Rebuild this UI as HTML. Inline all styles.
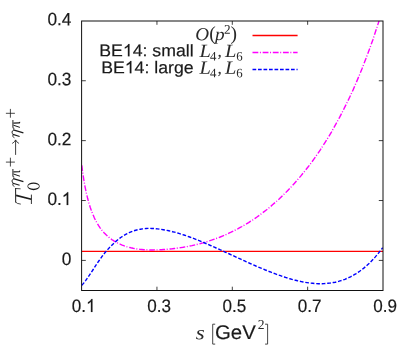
<!DOCTYPE html>
<html><head><meta charset="utf-8"><title>plot</title>
<style>
html,body{margin:0;padding:0;background:#fff;}
svg{display:block;will-change:transform;}
.sans{font-family:"Liberation Sans",sans-serif;fill:#1a1a1a;stroke:#1a1a1a;stroke-width:0.18px;}
.mi{font-family:"Liberation Serif",serif;font-style:italic;fill:#2a2a2a;}
.mr{font-family:"Liberation Serif",serif;fill:#2a2a2a;}
</style></head>
<body>
<svg width="415" height="345" viewBox="0 0 415 345">
<rect x="0" y="0" width="415" height="345" fill="#ffffff"/>
<g stroke="#1e1e1e" stroke-width="0.85" fill="none">
<line x1="156.95" y1="290.5" x2="156.95" y2="286.7"/>
<line x1="156.95" y1="21.0" x2="156.95" y2="24.8"/>
<line x1="232.30" y1="290.5" x2="232.30" y2="286.7"/>
<line x1="232.30" y1="21.0" x2="232.30" y2="24.8"/>
<line x1="307.65" y1="290.5" x2="307.65" y2="286.7"/>
<line x1="307.65" y1="21.0" x2="307.65" y2="24.8"/>
<line x1="81.6" y1="260.41" x2="85.8" y2="260.41"/>
<line x1="383.0" y1="260.41" x2="378.8" y2="260.41"/>
<line x1="81.6" y1="200.52" x2="85.8" y2="200.52"/>
<line x1="383.0" y1="200.52" x2="378.8" y2="200.52"/>
<line x1="81.6" y1="140.63" x2="85.8" y2="140.63"/>
<line x1="383.0" y1="140.63" x2="378.8" y2="140.63"/>
<line x1="81.6" y1="80.74" x2="85.8" y2="80.74"/>
<line x1="383.0" y1="80.74" x2="378.8" y2="80.74"/>
</g>
<defs><clipPath id="pc"><rect x="81.6" y="21.0" width="301.40" height="269.50"/></clipPath></defs>
<g clip-path="url(#pc)">
<line x1="81.6" y1="251.3" x2="383.0" y2="251.3" stroke="#ff0000" stroke-width="1.35"/>
<path d="M81.8,165.4 L82.4,170.4 L83.1,174.9 L83.7,179.1 L84.4,183.0 L85.0,186.6 L85.7,189.8 L86.3,192.9 L87.0,195.7 L87.6,198.3 L88.3,200.7 L88.9,203.0 L89.6,205.2 L90.2,207.3 L90.9,209.2 L91.5,211.0 L92.2,212.7 L92.8,214.3 L93.5,215.8 L94.1,217.3 L94.7,218.6 L95.4,219.9 L96.0,221.2 L96.7,222.4 L97.3,223.5 L98.0,224.6 L98.6,225.6 L99.3,226.6 L99.9,227.6 L100.6,228.5 L101.2,229.3 L101.9,230.2 L102.5,231.0 L103.2,231.7 L103.8,232.5 L104.5,233.2 L105.1,233.8 L105.8,234.5 L106.4,235.1 L107.1,235.7 L107.7,236.3 L108.3,236.8 L109.0,237.4 L109.6,237.9 L110.3,238.4 L110.9,238.9 L111.6,239.4 L112.2,239.8 L112.9,240.2 L113.5,240.7 L114.2,241.1 L114.8,241.5 L115.5,241.9 L116.1,242.2 L116.8,242.6 L117.4,242.9 L118.1,243.2 L118.7,243.6 L119.4,243.9 L120.0,244.1 L122.2,245.1 L124.4,245.9 L126.5,246.6 L128.7,247.2 L130.9,247.8 L133.1,248.3 L135.3,248.7 L137.4,249.0 L139.6,249.3 L141.8,249.5 L144.0,249.7 L146.1,249.8 L148.3,249.9 L150.5,250.0 L152.7,250.0 L154.9,249.9 L157.0,249.9 L159.2,249.8 L161.4,249.7 L163.6,249.5 L165.8,249.4 L167.9,249.2 L170.1,249.0 L172.3,248.8 L174.5,248.5 L176.7,248.2 L178.8,247.9 L181.0,247.6 L183.2,247.3 L185.4,246.9 L187.5,246.5 L189.7,246.0 L191.9,245.6 L194.1,245.1 L196.3,244.6 L198.4,244.0 L200.6,243.5 L202.8,242.9 L205.0,242.2 L207.2,241.6 L209.3,240.9 L211.5,240.2 L213.7,239.4 L215.9,238.6 L218.1,237.8 L220.2,237.0 L222.4,236.1 L224.6,235.2 L226.8,234.2 L228.9,233.2 L231.1,232.2 L233.3,231.1 L235.5,230.0 L237.7,228.9 L239.8,227.7 L242.0,226.5 L244.2,225.2 L246.4,223.9 L248.6,222.6 L250.7,221.2 L252.9,219.8 L255.1,218.3 L257.3,216.8 L259.5,215.2 L261.6,213.6 L263.8,211.9 L266.0,210.2 L268.2,208.5 L270.4,206.7 L272.5,204.8 L274.7,202.9 L276.9,201.0 L279.1,199.0 L281.2,196.9 L283.4,194.8 L285.6,192.7 L287.8,190.4 L290.0,188.2 L292.1,185.9 L294.3,183.5 L296.5,181.0 L298.7,178.5 L300.9,175.9 L303.0,173.3 L305.2,170.6 L307.4,167.8 L309.6,165.0 L311.8,162.1 L313.9,159.1 L316.1,156.0 L318.3,152.8 L320.5,149.6 L322.6,146.3 L324.8,142.9 L327.0,139.4 L329.2,135.8 L331.4,132.1 L333.5,128.3 L335.7,124.4 L337.9,120.5 L340.1,116.4 L342.3,112.2 L344.4,107.9 L346.6,103.5 L348.8,99.0 L351.0,94.4 L353.2,89.6 L355.3,84.7 L357.5,79.6 L359.7,74.4 L361.9,69.1 L364.0,63.6 L366.2,57.9 L368.4,52.1 L370.6,46.1 L372.8,39.9 L374.9,33.5 L377.1,26.9 L379.3,20.1" fill="none" stroke="#ff00ff" stroke-width="1.4" stroke-dasharray="5.7 1.6 1.0 1.85"/>
<path d="M81.8,285.4 L83.7,283.1 L85.6,280.6 L87.5,277.9 L89.4,275.2 L91.3,272.3 L93.2,269.5 L95.0,266.6 L96.9,263.7 L98.8,261.0 L100.7,258.3 L102.6,255.7 L104.5,253.3 L106.4,251.0 L108.3,248.9 L110.2,246.8 L112.1,244.9 L114.0,243.1 L115.9,241.4 L117.8,239.8 L119.6,238.3 L121.5,237.0 L123.4,235.7 L125.3,234.6 L127.2,233.6 L129.1,232.7 L131.0,231.9 L132.9,231.1 L134.8,230.5 L136.7,230.0 L138.6,229.5 L140.5,229.2 L142.4,228.9 L144.3,228.7 L146.1,228.5 L148.0,228.4 L149.9,228.4 L151.8,228.5 L153.7,228.5 L155.6,228.7 L157.5,228.9 L159.4,229.1 L161.3,229.4 L163.2,229.7 L165.1,230.0 L167.0,230.4 L168.9,230.8 L170.7,231.2 L172.6,231.7 L174.5,232.1 L176.4,232.7 L178.3,233.2 L180.2,233.8 L182.1,234.4 L184.0,235.0 L185.9,235.6 L187.8,236.3 L189.7,237.0 L191.6,237.7 L193.5,238.4 L195.3,239.1 L197.2,239.9 L199.1,240.6 L201.0,241.4 L202.9,242.2 L204.8,243.0 L206.7,243.8 L208.6,244.6 L210.5,245.5 L212.4,246.3 L214.3,247.1 L216.2,248.0 L218.1,248.8 L219.9,249.7 L221.8,250.5 L223.7,251.4 L225.6,252.3 L227.5,253.1 L229.4,254.0 L231.3,254.9 L233.2,255.7 L235.1,256.6 L237.0,257.5 L238.9,258.3 L240.8,259.2 L242.7,260.1 L244.6,260.9 L246.4,261.8 L248.3,262.6 L250.2,263.5 L252.1,264.3 L254.0,265.1 L255.9,266.0 L257.8,266.8 L259.7,267.6 L261.6,268.4 L263.5,269.2 L265.4,270.0 L267.3,270.7 L269.2,271.5 L271.0,272.2 L272.9,273.0 L274.8,273.7 L276.7,274.4 L278.6,275.1 L280.5,275.7 L282.4,276.4 L284.3,277.0 L286.2,277.6 L288.1,278.2 L290.0,278.8 L291.9,279.3 L293.8,279.9 L295.6,280.3 L297.5,280.8 L299.4,281.2 L301.3,281.6 L303.2,282.0 L305.1,282.3 L307.0,282.6 L308.9,282.9 L310.8,283.1 L312.7,283.3 L314.6,283.5 L316.5,283.6 L318.4,283.7 L320.2,283.7 L322.1,283.7 L324.0,283.6 L325.9,283.5 L327.8,283.3 L329.7,283.1 L331.6,282.9 L333.5,282.5 L335.4,282.2 L337.3,281.7 L339.2,281.2 L341.1,280.6 L343.0,280.0 L344.9,279.3 L346.7,278.5 L348.6,277.7 L350.5,276.8 L352.4,275.8 L354.3,274.7 L356.2,273.6 L358.1,272.3 L360.0,271.0 L361.9,269.6 L363.8,268.1 L365.7,266.5 L367.6,264.8 L369.5,263.1 L371.3,261.2 L373.2,259.2 L375.1,257.1 L377.0,254.9 L378.9,252.6 L380.8,250.2 L382.7,247.7" fill="none" stroke="#0000ff" stroke-width="1.4" stroke-dasharray="3.7 1.8"/>
</g>
<rect x="81.6" y="21.0" width="301.40" height="269.50" fill="none" stroke="#111" stroke-width="1"/>
<line x1="252.5" y1="35.5" x2="297.6" y2="35.5" stroke="#ff0000" stroke-width="1.35"/>
<line x1="252.5" y1="52.5" x2="297.6" y2="52.5" stroke="#ff00ff" stroke-width="1.4" stroke-dasharray="5.8 1.6 1.0 1.75"/>
<line x1="252.5" y1="69.5" x2="297.6" y2="69.5" stroke="#0000ff" stroke-width="1.4" stroke-dasharray="3.7 1.8"/>
<text class="sans" transform="translate(71.40,264.96) scale(0.96,1) rotate(0.1)" font-size="18.0" text-anchor="end">0</text>
<text class="sans" transform="translate(61.79,205.07) scale(0.96,1) rotate(0.1)" font-size="18.0" text-anchor="end">0.</text>
<path d="M68.23,205.07 L66.71,205.07 L66.71,194.99 Q66.16,195.53 65.27,196.08 Q64.38,196.62 63.67,196.89 L63.67,195.36 Q64.95,194.74 65.90,193.85 Q66.85,192.96 67.25,192.13 L68.23,192.13 Z" fill="#1a1a1a" stroke="#1a1a1a" stroke-width="0.18"/>
<text class="sans" transform="translate(71.40,145.18) scale(0.96,1) rotate(0.1)" font-size="18.0" text-anchor="end">0.2</text>
<text class="sans" transform="translate(71.40,85.29) scale(0.96,1) rotate(0.1)" font-size="18.0" text-anchor="end">0.3</text>
<text class="sans" transform="translate(71.40,25.40) scale(0.96,1) rotate(0.1)" font-size="18.0" text-anchor="end">0.4</text>
<text class="sans" transform="translate(71.81,311.90) scale(0.95,1) rotate(0.1)" font-size="18.0" text-anchor="start">0.</text>
<path d="M92.45,311.90 L90.94,311.90 L90.94,301.82 Q90.40,302.36 89.52,302.91 Q88.64,303.45 87.94,303.73 L87.94,302.20 Q89.20,301.57 90.14,300.69 Q91.09,299.80 91.48,298.96 L92.45,298.96 Z" fill="#1a1a1a" stroke="#1a1a1a" stroke-width="0.18"/>
<text class="sans" transform="translate(159.05,311.90) scale(0.95,1) rotate(0.1)" font-size="18.0" text-anchor="middle">0.3</text>
<text class="sans" transform="translate(234.40,311.90) scale(0.95,1) rotate(0.1)" font-size="18.0" text-anchor="middle">0.5</text>
<text class="sans" transform="translate(309.75,311.90) scale(0.95,1) rotate(0.1)" font-size="18.0" text-anchor="middle">0.7</text>
<text class="sans" transform="translate(385.10,311.90) scale(0.95,1) rotate(0.1)" font-size="18.0" text-anchor="middle">0.9</text>
<text class="sans" transform="translate(99.30,56.30) scale(1.04,1) rotate(0.1)" font-size="17.0" text-anchor="start">BE</text>
<path d="M129.47,56.30 L127.92,56.30 L127.92,46.78 Q127.36,47.29 126.45,47.81 Q125.54,48.32 124.81,48.58 L124.81,47.14 Q126.11,46.55 127.09,45.71 Q128.06,44.87 128.47,44.08 L129.47,44.08 Z" fill="#1a1a1a" stroke="#1a1a1a" stroke-width="0.18"/>
<text class="sans" transform="translate(132.72,56.30) scale(1.04,1) rotate(0.1)" font-size="17.0" text-anchor="start">4: small</text>
<text class="sans" transform="translate(101.20,73.20) scale(1.04,1) rotate(0.1)" font-size="17.0" text-anchor="start">BE</text>
<path d="M131.37,73.20 L129.82,73.20 L129.82,63.68 Q129.26,64.19 128.35,64.71 Q127.44,65.22 126.71,65.48 L126.71,64.04 Q128.01,63.45 128.99,62.61 Q129.96,61.77 130.37,60.98 L131.37,60.98 Z" fill="#1a1a1a" stroke="#1a1a1a" stroke-width="0.18"/>
<text class="sans" transform="translate(134.62,73.20) scale(1.04,1) rotate(0.1)" font-size="17.0" text-anchor="start">4: large</text>
<text class="mi" transform="translate(199.50,56.90) scale(1.1,1) rotate(0.1)" font-size="18.6" text-anchor="start">L</text>
<text class="mr" transform="translate(210.00,60.40) scale(1.0,1) rotate(0.1)" font-size="12.8" text-anchor="start">4</text>
<text class="mr" transform="translate(217.50,56.60) scale(1.0,1) rotate(0.1)" font-size="17.5" text-anchor="start">,</text>
<text class="mi" transform="translate(225.10,56.90) scale(1.1,1) rotate(0.1)" font-size="18.6" text-anchor="start">L</text>
<text class="mr" transform="translate(236.20,60.40) scale(1.0,1) rotate(0.1)" font-size="12.8" text-anchor="start">6</text>
<text class="mi" transform="translate(199.50,73.80) scale(1.1,1) rotate(0.1)" font-size="18.6" text-anchor="start">L</text>
<text class="mr" transform="translate(210.00,77.30) scale(1.0,1) rotate(0.1)" font-size="12.8" text-anchor="start">4</text>
<text class="mr" transform="translate(217.50,73.50) scale(1.0,1) rotate(0.1)" font-size="17.5" text-anchor="start">,</text>
<text class="mi" transform="translate(225.10,73.80) scale(1.1,1) rotate(0.1)" font-size="18.6" text-anchor="start">L</text>
<text class="mr" transform="translate(236.20,77.30) scale(1.0,1) rotate(0.1)" font-size="12.8" text-anchor="start">6</text>
<text class="mi" transform="translate(195.30,40.20) scale(1.04,1) rotate(0.1)" font-size="18.4" text-anchor="start">O</text>
<text class="mr" transform="translate(209.20,39.80) scale(1.0,1) rotate(0.1)" font-size="19.5" text-anchor="start">(</text>
<text class="mi" transform="translate(215.10,40.00) scale(1.08,1) rotate(0.1)" font-size="17.8" text-anchor="start">p</text>
<text class="mr" transform="translate(223.90,33.80) scale(1.0,1) rotate(0.1)" font-size="13.2" text-anchor="start">2</text>
<text class="mr" transform="translate(230.60,39.80) scale(1.0,1) rotate(0.1)" font-size="19.5" text-anchor="start">)</text>
<text class="mi" transform="translate(195.70,339.30) scale(1.16,1) rotate(0.1)" font-size="19.8" text-anchor="start">s</text>
<text class="sans" transform="translate(215.00,338.90) scale(1.03,1) rotate(0.1)" font-size="19.8" text-anchor="start">GeV</text>
<text class="mr" transform="translate(257.80,329.00) scale(1.0,1) rotate(0.1)" font-size="13.6" text-anchor="start">2</text>
<path d="M215.2,324.2 H212.7 V344.1 H215.2" fill="none" stroke="#333" stroke-width="0.9"/>
<path d="M265.1,324.2 H267.6 V344.1 H265.1" fill="none" stroke="#333" stroke-width="0.9"/>
<g fill="none" stroke="#1c1c1c" stroke-linecap="round" stroke-linejoin="round" aria-label="T_0^(eta pi+ -&gt; eta pi+)">
<path d="M15.6,188.5 L15.7,202.2" stroke-width="1.0"/>
<path d="M15.6,188.5 L20.2,188.8" stroke-width="0.8"/>
<path d="M15.7,202.2 Q16.4,203.7 20.4,204.1" stroke-width="0.8"/>
<path d="M16.1,195.4 L31.3,199.3" stroke-width="1.7" stroke-linecap="butt"/>
<path d="M31.4,195.0 L31.4,203.6" stroke-width="0.9"/>
<path d="M27.4,186.3 A6.15,3.85 0 1 0 39.7,186.3 A6.15,3.85 0 1 0 27.4,186.3 Z M28.1,186.3 A5.45,2.45 0 1 1 39.0,186.3 A5.45,2.45 0 1 1 28.1,186.3 Z" fill="#1c1c1c" fill-rule="evenodd" stroke="none"/>
<path d="M12.9,120.10 L12.9,127.20 Q13.0,128.30 14.3,128.50" stroke-width="1.1" stroke-linecap="butt" stroke="#333"/>
<path d="M13.4,123.10 L19.0,122.90 Q19.8,122.90 19.6,121.90" stroke-width="1.15" stroke-linecap="butt"/>
<path d="M13.4,125.20 L19.9,127.40" stroke-width="1.0" stroke-linecap="butt"/>
<path d="M13.3,129.90 L23.4,132.90" stroke-width="1.3" stroke-linecap="butt"/>
<path d="M13.5,130.00 Q10.4,131.90 13.1,134.40" stroke-width="0.95"/>
<path d="M13.0,134.40 L19.6,136.50" stroke-width="1.15" stroke-linecap="butt"/>
<path d="M13.0,134.50 Q11.6,136.90 14.1,137.70" stroke-width="0.85"/>
<path d="M5.9,113.30 H14.9 M10.4,108.90 V117.70" stroke-width="0.8" stroke-linecap="butt"/>
<path d="M12.9,168.90 L12.9,176.00 Q13.0,177.10 14.3,177.30" stroke-width="1.1" stroke-linecap="butt" stroke="#333"/>
<path d="M13.4,171.90 L19.0,171.70 Q19.8,171.70 19.6,170.70" stroke-width="1.15" stroke-linecap="butt"/>
<path d="M13.4,174.00 L19.9,176.20" stroke-width="1.0" stroke-linecap="butt"/>
<path d="M13.3,178.70 L23.4,181.70" stroke-width="1.3" stroke-linecap="butt"/>
<path d="M13.5,178.80 Q10.4,180.70 13.1,183.20" stroke-width="0.95"/>
<path d="M13.0,183.20 L19.6,185.30" stroke-width="1.15" stroke-linecap="butt"/>
<path d="M13.0,183.30 Q11.6,185.70 14.1,186.50" stroke-width="0.85"/>
<path d="M5.9,162.10 H14.9 M10.4,157.70 V166.50" stroke-width="0.8" stroke-linecap="butt"/>
<path d="M15.6,154.9 V140.2" stroke-width="0.85" stroke-linecap="butt"/>
<path d="M12.5,143.3 Q14.8,142.1 15.6,139.9 Q16.4,142.1 18.7,143.3" stroke-width="0.8"/>
</g>
</svg>
</body></html>
